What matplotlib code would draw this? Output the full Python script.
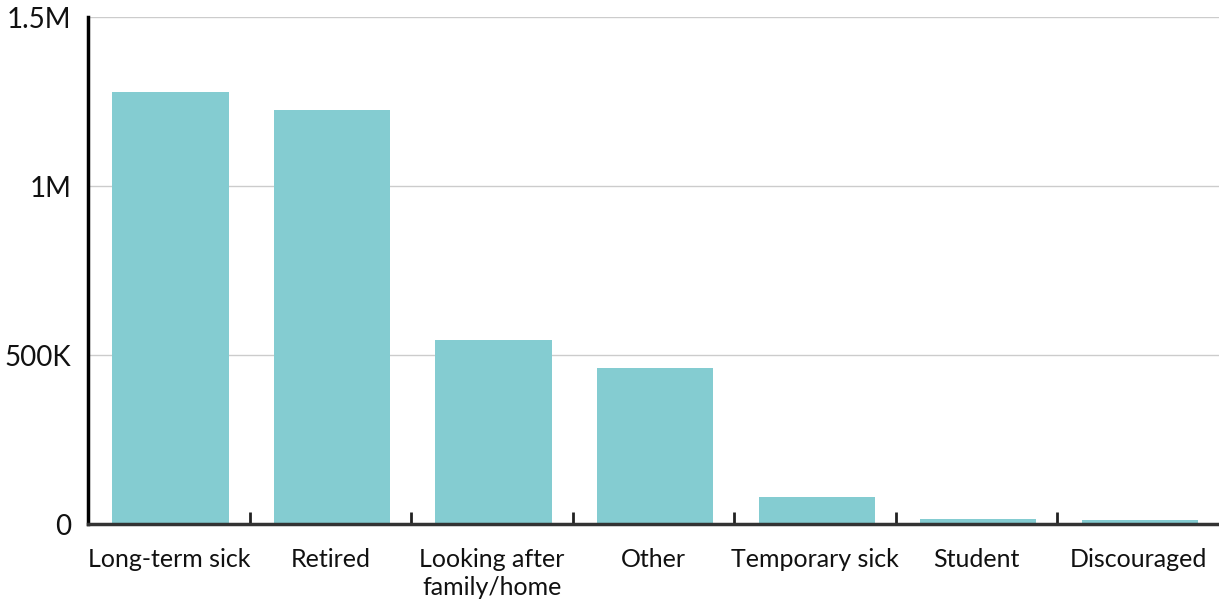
import matplotlib
matplotlib.use("Agg")
import matplotlib.pyplot as plt
import numpy as np
from matplotlib.ticker import FixedLocator

categories = ["Long-term sick", "Retired", "Looking after\nfamily/home", "Other",
              "Temporary sick", "Student", "Discouraged"]
values = [1278000, 1225000, 544000, 462000, 80000, 15000, 12000]
ytick_vals = [0, 500000, 1000000, 1500000]
ytick_labels = ["0", "500K", "1M", "1.5M"]

plt.rcParams['font.family'] = ['Lato', 'DejaVu Sans']

fig = plt.figure(figsize=(12.19, 6.01), dpi=100)
ax = fig.add_axes([0.0722, 0.128, 0.9278, 0.8437])

x = np.arange(len(categories))
ax.bar(x + 0.01, values, width=0.72, color="#84CCD1", zorder=2)

ax.set_xlim(-0.5, len(categories) - 0.5)
ax.set_ylim(0, 1500000)

ax.set_yticks(ytick_vals)
ax.set_yticklabels(ytick_labels)
ax.yaxis.grid(True, color="#cccccc", linewidth=1, zorder=0)
ax.tick_params(axis="y", length=0, pad=12, labelsize=20, labelcolor="#111111")

ax.set_xticks(x)
ax.set_xticklabels(categories, linespacing=1.3)
ax.tick_params(axis="x", which="major", length=0, pad=17, labelsize=18, labelcolor="#111111")
ax.xaxis.set_minor_locator(FixedLocator(x[:-1] + 0.5))
ax.tick_params(axis="x", which="minor", direction="in", length=9, width=2, color="#222222")

for side in ["top", "right"]:
    ax.spines[side].set_visible(False)
ax.spines["left"].set_linewidth(2.5)
ax.spines["left"].set_color("#000000")
ax.spines["bottom"].set_linewidth(2.5)
ax.spines["bottom"].set_color("#333333")
ax.spines["bottom"].set_zorder(3)

fig.savefig("out.png", dpi=100)
